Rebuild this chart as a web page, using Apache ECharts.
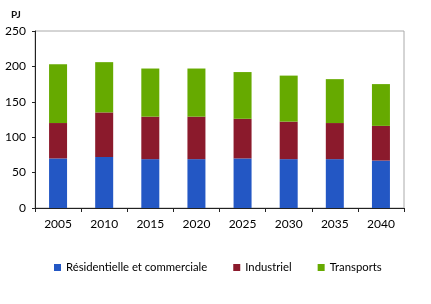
<!DOCTYPE html>
<html>
<head>
<meta charset="utf-8">
<script src="https://cdn.jsdelivr.net/npm/echarts@6/dist/echarts.min.js"></script>
<style>
  html, body { margin: 0; padding: 0; background: #fff; }
  #container { width: 431px; height: 304px; }
</style>
</head>
<body>
<div id="container"></div>
<script>
var years = ['2005', '2010', '2015', '2020', '2025', '2030', '2035', '2040'];
var residentiel = [70, 72, 69, 69, 70, 69, 69, 67];
var industriel = [50, 63, 60, 60, 56, 53, 51, 49];
var transports = [83, 71, 68, 68, 66, 65, 62, 59];
var yTicks = [0, 50, 100, 150, 200, 250];

var dom = document.getElementById('container');
var myChart = echarts.init(dom);
var font = 'Lato';

function barSeries(name, data, color) {
    return {
        name: name,
        type: 'bar',
        stack: 'total',
        data: data,
        barWidth: 18,
        itemStyle: { color: color },
        emphasis: { disabled: true }
    };
}

var option = {
    animation: false,
    textStyle: { fontFamily: font },
    title: {
        text: 'PJ',
        left: 6,
        top: 5,
        textStyle: { fontSize: 10, fontWeight: 'bold', color: '#111', fontFamily: font }
    },
    grid: {
        left: 35,
        right: 27,
        top: 31,
        bottom: 96,
        show: true,
        borderColor: '#aaa',
        borderWidth: 1
    },
    legend: {
        data: ['Résidentielle et commerciale', 'Industriel', 'Transports'],
        left: 49,
        top: 257,
        icon: 'rect',
        itemWidth: 7,
        itemHeight: 7,
        itemGap: 26,
        textStyle: { fontSize: 11.3, color: '#000', fontFamily: font }
    },
    xAxis: {
        type: 'category',
        data: years,
        axisLine: { lineStyle: { color: '#222', width: 1 } },
        axisTick: { show: true, length: 4, lineStyle: { color: '#222' } },
        axisLabel: { fontSize: 12, color: '#000', margin: 10 },
        splitLine: { show: false }
    },
    yAxis: {
        type: 'value',
        min: yTicks[0],
        max: yTicks[yTicks.length - 1],
        interval: 50,
        axisLine: { show: true, lineStyle: { color: '#222', width: 1 } },
        axisTick: { show: true, length: 3, lineStyle: { color: '#222' } },
        axisLabel: { fontSize: 12, color: '#000', margin: 9 },
        splitLine: { show: false }
    },
    series: [
        barSeries('Résidentielle et commerciale', residentiel, '#2357C4'),
        barSeries('Industriel', industriel, '#8B1A2C'),
        barSeries('Transports', transports, '#66AA00')
    ]
};

myChart.setOption(option);
</script>
</body>
</html>
